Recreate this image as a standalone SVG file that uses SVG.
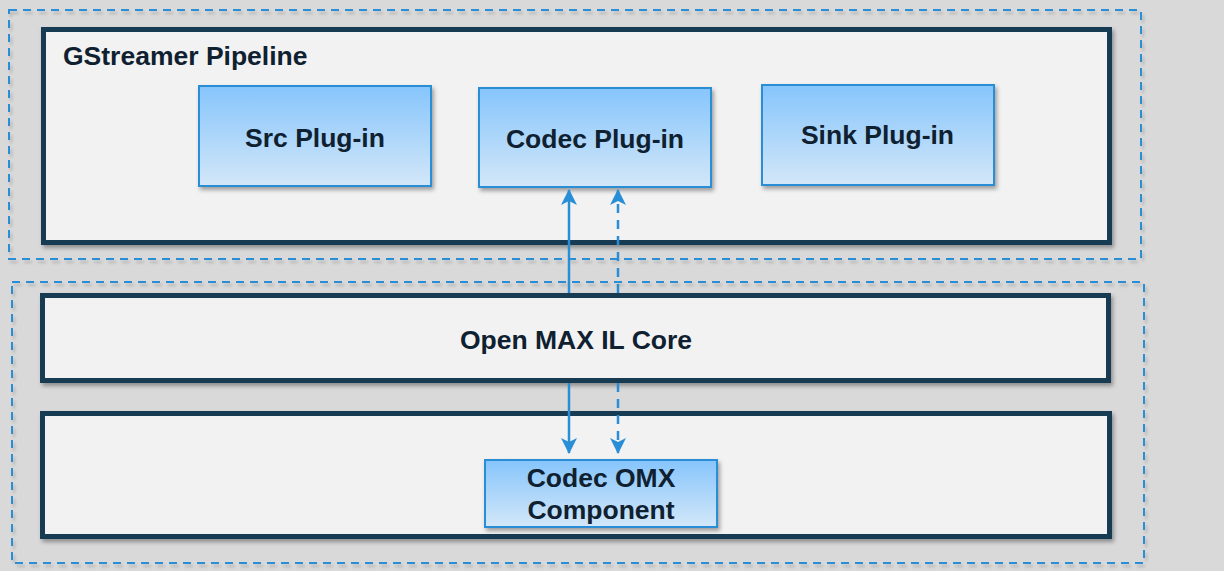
<svg xmlns="http://www.w3.org/2000/svg" width="1224" height="571" viewBox="0 0 1224 571">
<defs>
<linearGradient id="blue" x1="0" y1="0" x2="0" y2="1">
<stop offset="0" stop-color="#86c5fc"/>
<stop offset="1" stop-color="#d3e7f8"/>
</linearGradient>
<filter id="sh" x="-10%" y="-10%" width="120%" height="130%">
<feDropShadow dx="2" dy="3" stdDeviation="2" flood-color="#000" flood-opacity="0.35"/>
</filter>
<filter id="shl" x="-5%" y="-5%" width="110%" height="115%">
<feDropShadow dx="2" dy="3" stdDeviation="1.5" flood-color="#000" flood-opacity="0.18"/>
</filter>
<marker id="ah" viewBox="0 0 16 16" refX="15" refY="8" markerWidth="16" markerHeight="16" markerUnits="userSpaceOnUse" orient="auto">
<path d="M0,0 L16,8 L0,16 L4,8 Z" fill="#2a8ed6"/>
</marker>
<style>
.dash{fill:none;stroke:#2a8ed6;stroke-width:2;stroke-dasharray:8 6;filter:url(#shl)}
.dark{fill:#f2f2f2;stroke:#143a52;stroke-width:5;filter:url(#sh)}
.blue{fill:url(#blue);stroke:#2a8ed6;stroke-width:2;filter:url(#sh)}
.t{font-family:"Liberation Sans",Arial,sans-serif;font-weight:bold;font-size:26.5px;fill:#0f2130}
.c{text-anchor:middle}
.ln{stroke:#2a8ed6;stroke-width:2.5;fill:none;marker-end:url(#ah)}
.ld{stroke-dasharray:9 7}
</style>
</defs>
<rect x="0" y="0" width="1224" height="571" fill="#d9d9d9"/>
<g id="user-space">
<rect class="dash" x="9" y="10" width="1132" height="249"/>
</g>
<g id="kernel-space">
<rect class="dash" x="12" y="282" width="1132" height="281"/>
</g>
<g id="gstreamer-pipeline">
<rect class="dark" x="43.5" y="29.5" width="1066" height="213"/>
<text class="t" x="63" y="65">GStreamer Pipeline</text>
</g>
<g id="openmax-core">
<rect class="dark" x="42.5" y="295.5" width="1066" height="85"/>
<text class="t c" x="576" y="349">Open MAX IL Core</text>
</g>
<g id="omx-layer">
<rect class="dark" x="42.5" y="413.5" width="1067" height="123"/>
</g>
<g id="src-plugin">
<rect class="blue" x="199" y="86" width="232" height="100"/>
<text class="t c" x="315" y="147">Src Plug-in</text>
</g>
<g id="codec-plugin">
<rect class="blue" x="479" y="88" width="232" height="99"/>
<text class="t c" x="595" y="148">Codec Plug-in</text>
</g>
<g id="sink-plugin">
<rect class="blue" x="762" y="85" width="232" height="100"/>
<text class="t c" x="877.5" y="144">Sink Plug-in</text>
</g>
<g id="codec-omx">
<rect class="blue" x="485" y="460" width="232" height="67"/>
<text class="t c" x="601" y="487">Codec OMX</text>
<text class="t c" x="601" y="519">Component</text>
</g>
<g id="connectors">
<line class="ln" x1="569" y1="293" x2="569" y2="190"/>
<line class="ln ld" x1="618" y1="293" x2="618" y2="190"/>
<line class="ln" x1="569" y1="383" x2="569" y2="453"/>
<line class="ln ld" x1="618" y1="383" x2="618" y2="453"/>
</g>
</svg>
